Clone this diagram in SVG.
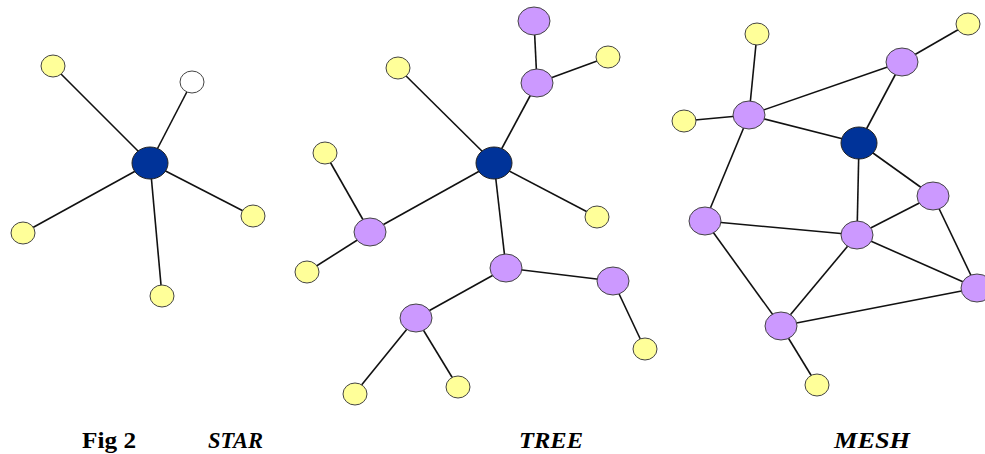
<svg xmlns="http://www.w3.org/2000/svg" width="985" height="454" viewBox="0 0 985 454">
<style>
.e{stroke:#111;stroke-width:1.6;fill:none}
.y{fill:#FFFF99;stroke:#444;stroke-width:1}
.w{fill:#FFFFFF;stroke:#444;stroke-width:1}
.p{fill:#CC99FF;stroke:#444;stroke-width:1}
.n{fill:#003399;stroke:#222;stroke-width:1}
text{font-family:'Liberation Serif','Times New Roman',Times,serif;font-size:24px;font-weight:bold;fill:#000}
.it{font-style:italic}
</style>
<rect width="985" height="454" fill="#fff"/>
<g id="connectors">
<line class="e" x1="150" y1="163" x2="53" y2="66"/>
<line class="e" x1="150" y1="163" x2="192" y2="82"/>
<line class="e" x1="150" y1="163" x2="23" y2="233"/>
<line class="e" x1="150" y1="163" x2="253" y2="216"/>
<line class="e" x1="150" y1="163" x2="162" y2="296"/>
<line class="e" x1="534" y1="21" x2="537" y2="83"/>
<line class="e" x1="537" y1="83" x2="608" y2="57"/>
<line class="e" x1="537" y1="83" x2="494" y2="163"/>
<line class="e" x1="398" y1="68" x2="494" y2="163"/>
<line class="e" x1="494" y1="163" x2="597" y2="217"/>
<line class="e" x1="494" y1="163" x2="370" y2="232"/>
<line class="e" x1="494" y1="163" x2="506" y2="268"/>
<line class="e" x1="325" y1="153" x2="370" y2="232"/>
<line class="e" x1="370" y1="232" x2="307" y2="272"/>
<line class="e" x1="506" y1="268" x2="613" y2="281"/>
<line class="e" x1="613" y1="281" x2="645" y2="349"/>
<line class="e" x1="506" y1="268" x2="416" y2="318"/>
<line class="e" x1="416" y1="318" x2="355" y2="393"/>
<line class="e" x1="416" y1="318" x2="458" y2="387"/>
<line class="e" x1="757" y1="34" x2="749" y2="115"/>
<line class="e" x1="684" y1="121" x2="749" y2="115"/>
<line class="e" x1="749" y1="115" x2="902" y2="62"/>
<line class="e" x1="902" y1="62" x2="968" y2="24"/>
<line class="e" x1="902" y1="62" x2="859" y2="143"/>
<line class="e" x1="749" y1="115" x2="859" y2="143"/>
<line class="e" x1="749" y1="115" x2="705" y2="221"/>
<line class="e" x1="859" y1="143" x2="857" y2="235"/>
<line class="e" x1="859" y1="143" x2="933" y2="196"/>
<line class="e" x1="705" y1="221" x2="857" y2="235"/>
<line class="e" x1="705" y1="221" x2="781" y2="326"/>
<line class="e" x1="857" y1="235" x2="933" y2="196"/>
<line class="e" x1="857" y1="235" x2="977" y2="288"/>
<line class="e" x1="857" y1="235" x2="781" y2="326"/>
<line class="e" x1="933" y1="196" x2="977" y2="288"/>
<line class="e" x1="781" y1="326" x2="977" y2="288"/>
<line class="e" x1="781" y1="326" x2="817" y2="385"/>
</g>
<g id="star">
<g id="s-hub"><ellipse class="n" cx="150" cy="163" rx="18" ry="16"/></g>
<g id="s1"><ellipse class="y" cx="53" cy="66" rx="12" ry="11"/></g>
<g id="s2"><ellipse class="w" cx="192" cy="82" rx="12" ry="11"/></g>
<g id="s3"><ellipse class="y" cx="23" cy="233" rx="12" ry="11"/></g>
<g id="s4"><ellipse class="y" cx="253" cy="216" rx="12" ry="11"/></g>
<g id="s5"><ellipse class="y" cx="162" cy="296" rx="12" ry="11"/></g>
</g>
<g id="tree">
<g id="t-hub"><ellipse class="n" cx="494" cy="163" rx="18" ry="16"/></g>
<g id="t1"><ellipse class="p" cx="534" cy="21" rx="16" ry="14"/></g>
<g id="t2"><ellipse class="p" cx="537" cy="83" rx="16" ry="14"/></g>
<g id="t3"><ellipse class="y" cx="608" cy="57" rx="12" ry="11"/></g>
<g id="t4"><ellipse class="y" cx="398" cy="68" rx="12" ry="11"/></g>
<g id="t5"><ellipse class="y" cx="325" cy="153" rx="12" ry="11"/></g>
<g id="t6"><ellipse class="p" cx="370" cy="232" rx="16" ry="14"/></g>
<g id="t7"><ellipse class="y" cx="307" cy="272" rx="12" ry="11"/></g>
<g id="t8"><ellipse class="y" cx="597" cy="217" rx="12" ry="11"/></g>
<g id="t9"><ellipse class="p" cx="506" cy="268" rx="16" ry="14"/></g>
<g id="t10"><ellipse class="p" cx="613" cy="281" rx="16" ry="14"/></g>
<g id="t11"><ellipse class="y" cx="645" cy="349" rx="12" ry="11"/></g>
<g id="t12"><ellipse class="p" cx="416" cy="318" rx="16" ry="14"/></g>
<g id="t13"><ellipse class="y" cx="355" cy="394" rx="12" ry="11"/></g>
<g id="t14"><ellipse class="y" cx="458" cy="387" rx="12" ry="11"/></g>
</g>
<g id="mesh">
<g id="m-hub"><ellipse class="n" cx="859" cy="143" rx="18" ry="16"/></g>
<g id="m1"><ellipse class="y" cx="757" cy="34" rx="12" ry="11"/></g>
<g id="m2"><ellipse class="y" cx="968" cy="24" rx="12" ry="11"/></g>
<g id="m3"><ellipse class="p" cx="902" cy="62" rx="16" ry="14"/></g>
<g id="m4"><ellipse class="p" cx="749" cy="115" rx="16" ry="14"/></g>
<g id="m5"><ellipse class="y" cx="684" cy="121" rx="12" ry="11"/></g>
<g id="m6"><ellipse class="p" cx="933" cy="196" rx="16" ry="14"/></g>
<g id="m7"><ellipse class="p" cx="705" cy="221" rx="16" ry="14"/></g>
<g id="m8"><ellipse class="p" cx="857" cy="235" rx="16" ry="14"/></g>
<g id="m9"><ellipse class="p" cx="977" cy="288" rx="16" ry="14"/></g>
<g id="m10"><ellipse class="p" cx="781" cy="326" rx="16" ry="14"/></g>
<g id="m11"><ellipse class="y" cx="817" cy="385" rx="12" ry="11"/></g>
</g>
<g id="labels">
<text x="82" y="448" textLength="54" lengthAdjust="spacingAndGlyphs">Fig 2</text>
<text class="it" x="208" y="448" textLength="55" lengthAdjust="spacingAndGlyphs">STAR</text>
<text class="it" x="519" y="448" textLength="64" lengthAdjust="spacingAndGlyphs">TREE</text>
<text class="it" x="834" y="448" textLength="76" lengthAdjust="spacingAndGlyphs">MESH</text>
</g>
</svg>
